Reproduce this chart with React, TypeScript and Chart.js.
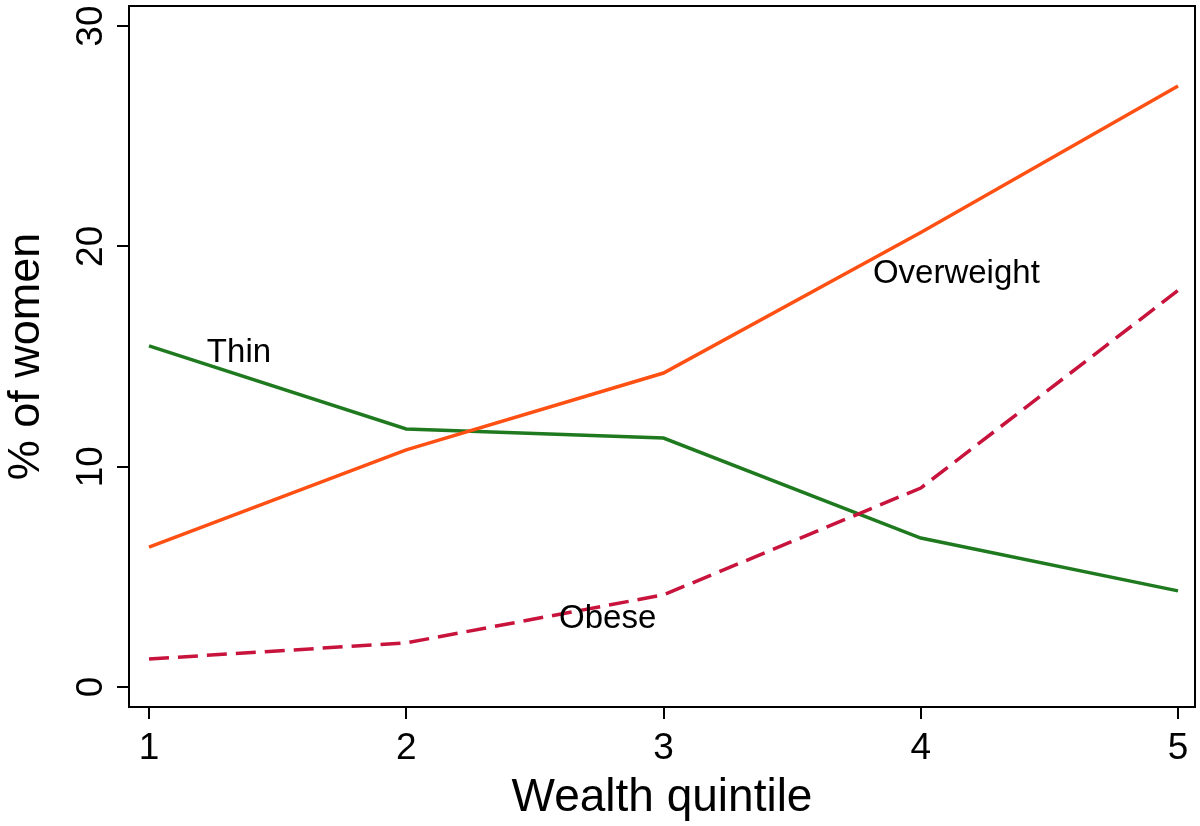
import { useEffect, useRef } from 'react'
import { Chart, registerables } from 'chart.js'

Chart.register(...registerables)

const QUINTILES = [1, 2, 3, 4, 5]
const OVERWEIGHT = [6.35, 10.76, 14.25, 20.63, 27.28]
const THIN = [15.48, 11.71, 11.3, 6.76, 4.36]
const OBESE = [1.27, 2.0, 4.18, 9.03, 18.0]
const Y_TICKS = [0, 10, 20, 30]

// in-plot series labels (data coordinates, baseline-left)
const LABEL_TEXT = ['Thin', 'Overweight', 'Obese']
const LABEL_X = [1.225, 3.814, 2.594]
const LABEL_Y = [14.75, 18.34, 2.68]

const FONT = '"Liberation Sans", Arial, Helvetica, sans-serif'
const ORANGE = '#ff5014'
const GREEN = '#1f7a1f'
const CRIMSON = '#c8143c'

const boxAndLabels = {
  id: 'boxAndLabels',
  afterDatasetsDraw(chart: Chart) {
    const { ctx, chartArea, scales } = chart
    ctx.save()
    ctx.strokeStyle = '#000'
    ctx.lineWidth = 2
    ctx.strokeRect(chartArea.left, chartArea.top, chartArea.right - chartArea.left, chartArea.bottom - chartArea.top)
    ctx.fillStyle = '#000'
    ctx.font = `33px ${FONT}`
    ctx.textAlign = 'left'
    ctx.textBaseline = 'alphabetic'
    LABEL_TEXT.forEach((t, i) => {
      ctx.fillText(t, scales.x.getPixelForValue(LABEL_X[i]), scales.y.getPixelForValue(LABEL_Y[i]))
    })
    ctx.restore()
  },
}

export default function App() {
  const canvasRef = useRef<HTMLCanvasElement>(null)
  const chartRef = useRef<Chart | null>(null)

  useEffect(() => {
    if (!canvasRef.current) return
    const pts = (vals: number[]) => QUINTILES.map((q, i) => ({ x: q, y: vals[i] }))

    chartRef.current = new Chart(canvasRef.current, {
      type: 'line',
      data: {
        datasets: [
          { label: 'Overweight', data: pts(OVERWEIGHT), borderColor: ORANGE, borderWidth: 3.5, pointRadius: 0, tension: 0 },
          { label: 'Obese', data: pts(OBESE), borderColor: CRIMSON, borderWidth: 3.5, borderDash: [20, 9], pointRadius: 0, tension: 0 },
          { label: 'Thin', data: pts(THIN), borderColor: GREEN, borderWidth: 3.5, pointRadius: 0, tension: 0 },
        ],
      },
      options: {
        animation: false,
        responsive: true,
        maintainAspectRatio: false,
        devicePixelRatio: 1,
        layout: { padding: { top: 6, right: 5, left: 0, bottom: 0 } },
        plugins: { legend: { display: false }, tooltip: { enabled: false } },
        scales: {
          x: {
            type: 'linear',
            min: 0.9223,
            max: 5.066,
            afterBuildTicks: (s) => {
              s.ticks = QUINTILES.map((v) => ({ value: v }))
            },
            afterFit: (s) => {
              s.height = 119
              s.paddingLeft = 0
              s.paddingRight = 0
            },
            border: { display: true, color: '#000', width: 2 },
            grid: { drawOnChartArea: false, drawTicks: true, tickLength: 12, color: '#000', lineWidth: 2 },
            ticks: { color: '#000', font: { family: FONT, size: 37 }, padding: 8, maxRotation: 0 },
            title: { display: true, text: 'Wealth quintile', color: '#000', font: { family: FONT, size: 46 }, padding: 0 },
          },
          y: {
            type: 'linear',
            min: -0.91,
            max: 30.91,
            afterBuildTicks: (s) => {
              s.ticks = Y_TICKS.map((v) => ({ value: v }))
            },
            afterFit: (s) => {
              s.width = 129
              s.paddingTop = 0
              s.paddingBottom = 0
            },
            border: { display: true, color: '#000', width: 2 },
            grid: { drawOnChartArea: false, drawTicks: true, tickLength: 12, color: '#000', lineWidth: 2 },
            ticks: {
              color: '#000',
              font: { family: FONT, size: 37 },
              padding: 5,
              minRotation: 90,
              maxRotation: 90,
              crossAlign: 'center',
            },
            title: { display: true, text: '% of women', color: '#000', font: { family: FONT, size: 45 }, padding: 0 },
          },
        },
      },
      plugins: [boxAndLabels],
    })

    return () => {
      chartRef.current?.destroy()
      chartRef.current = null
    }
  }, [])

  return (
    <div style={{ position: 'absolute', left: 0, top: 0, width: 1200, height: 826, background: '#fff' }}>
      <canvas ref={canvasRef} />
    </div>
  )
}
